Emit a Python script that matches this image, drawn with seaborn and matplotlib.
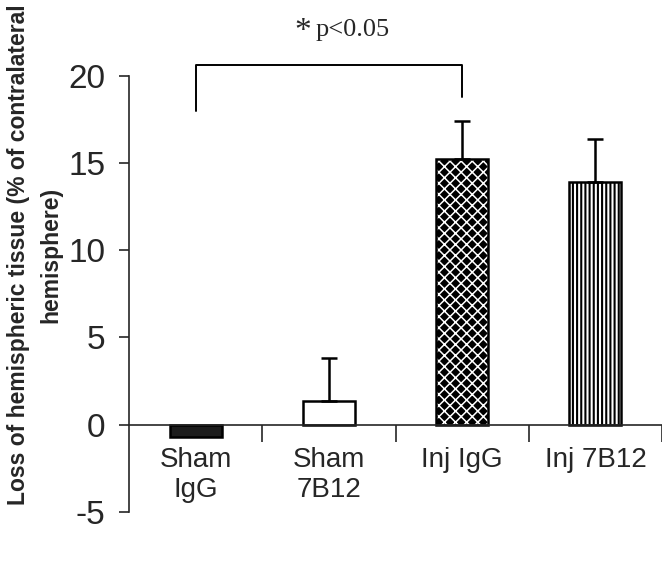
import seaborn as sns
import matplotlib.pyplot as plt
import pandas as pd

# values
groups = ["Sham\nIgG", "Sham\n7B12", "Inj IgG", "Inj 7B12"]
loss = [-0.7, 1.35, 15.2, 13.9]
sem = [0.0, 2.45, 2.2, 2.5]
y_ticks = [-5, 0, 5, 10, 15, 20]

fills = ["#1c1c1c", "white", "black", "white"]
hatches = ["", "", "xxx", "||||"]
hatch_cols = ["#1c1c1c", "black", "white", "black"]
hatch_lws = [1.0, 1.0, 1.1, 1.5]

sns.set_style("ticks")
plt.rcParams["font.family"] = ["Liberation Sans", "DejaVu Sans"]
plt.rcParams["axes.unicode_minus"] = False

df = pd.DataFrame({"group": groups, "loss": loss})

fig = plt.figure(figsize=(6.62, 5.65), dpi=100)
ax = fig.add_axes([0.195, 0.094, 0.805, 0.772])

sns.barplot(data=df, x="group", y="loss", hue="group", palette=fills,
            width=0.39, edgecolor="black", linewidth=1.8, legend=False,
            errorbar=None, ax=ax)

for p, h, hc, hl in zip(ax.patches, hatches, hatch_cols, hatch_lws):
    p.set_hatch(h)
    p._hatch_color = plt.matplotlib.colors.to_rgba(hc)
    p._hatch_linewidth = hl

# upward-only error bars
xs = [p.get_x() + p.get_width() / 2 for p in ax.patches]
up = [(e if e > 0 else 0) for e in sem]
ax.errorbar(xs[1:], loss[1:], yerr=[[0] * 3, up[1:]], fmt="none",
            ecolor="black", elinewidth=1.8, capsize=6, capthick=1.8)

ax.set_xlim(-0.5, 3.5)
ax.set_ylim(-5, 20)
ax.set_yticks(y_ticks)
ax.tick_params(axis="y", labelsize=24, length=7, width=1.2, pad=10)
ax.tick_params(axis="x", which="major", labelsize=20, length=0, pad=16)
ax.set_xticks([0.5, 1.5, 2.5, 3.5], minor=True)
ax.tick_params(axis="x", which="minor", length=12, width=1.2, direction="out")
ax.set_xlabel("")
for lbl in ax.get_xticklabels():
    lbl.set_linespacing(1.35)

ax.spines["top"].set_visible(False)
ax.spines["right"].set_visible(False)
ax.spines["bottom"].set_position(("data", 0))
ax.spines["left"].set_bounds(-5, 20)
for s in ("left", "bottom"):
    ax.spines[s].set_linewidth(1.2)

ax.set_ylabel("Loss of hemispheric tissue (% of contralateral\nhemisphere)",
              fontsize=16.5, fontweight="bold", linespacing=1.5)
ax.yaxis.set_label_coords(-0.125, 0.59)

# significance bracket between Sham IgG and Inj IgG
ax.plot([0, 0, 2, 2], [18.0, 20.6, 20.6, 18.8], color="black", lw=1.4,
        clip_on=False)
ax.text(0.8, 22.5, "*", fontsize=24, family="Liberation Serif",
        ha="center", va="center")
ax.text(0.9, 22.6, "p<0.05", fontsize=19, family="Liberation Serif",
        ha="left", va="center")

fig.savefig("out.png", dpi=100)
